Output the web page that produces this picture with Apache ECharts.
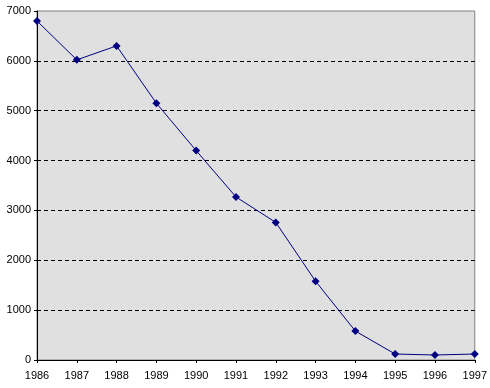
<!DOCTYPE html>
<html>
<head>
<meta charset="utf-8">
<script src="https://cdn.jsdelivr.net/npm/echarts@6/dist/echarts.min.js"></script>
<style>html,body{margin:0;padding:0;background:#fff}#c{width:490px;height:388px}</style>
</head>
<body>
<div id="c"></div>
<script>
const years = ['1986','1987','1988','1989','1990','1991','1992','1993','1994','1995','1996','1997'];
const values = [6800, 6020, 6300, 5150, 4200, 3270, 2760, 1580, 580, 120, 100, 120];
const yTicks = [0, 1000, 2000, 3000, 4000, 5000, 6000, 7000];

const chart = echarts.init(document.getElementById('c'), null, {renderer: 'canvas'});
chart.setOption({
  animation: false,
  backgroundColor: '#ffffff',
  grid: {left: 37, right: 15, top: 11, bottom: 28, show: true, backgroundColor: '#E0E0E0', borderColor: '#808080', borderWidth: 1},
  xAxis: {
    type: 'category', data: years, boundaryGap: false,
    axisLine: {lineStyle: {color: '#000', width: 1}},
    axisTick: {show: true, length: 3, alignWithLabel: true, lineStyle: {color: '#000'}},
    axisLabel: {color: '#000', fontFamily: 'Liberation Sans, Arial, sans-serif', fontSize: 11, margin: 10, interval: 0},
    splitLine: {show: false}
  },
  yAxis: {
    type: 'value', min: yTicks[0], max: yTicks[yTicks.length - 1], interval: 1000,
    axisLine: {show: true, lineStyle: {color: '#000', width: 1}},
    axisTick: {show: true, length: 3, lineStyle: {color: '#000'}},
    axisLabel: {color: '#000', fontFamily: 'Liberation Sans, Arial, sans-serif', fontSize: 11, margin: 6, formatter: v => String(v)},
    splitLine: {show: true, showMinLine: false, showMaxLine: false, lineStyle: {color: '#000', type: [4, 3], width: 1}}
  },
  series: [{
    type: 'line', data: values,
    symbol: 'diamond', symbolSize: 8, showAllSymbol: true,
    lineStyle: {color: '#000080', width: 1},
    itemStyle: {color: '#000080'}
  }]
});
</script>
</body>
</html>
